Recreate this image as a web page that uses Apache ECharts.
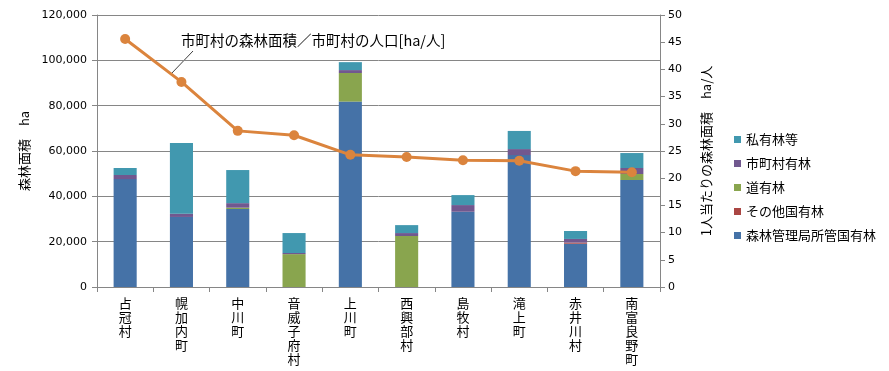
<!DOCTYPE html>
<html><head><meta charset="utf-8">
<script src="https://cdn.jsdelivr.net/npm/echarts@6/dist/echarts.min.js"></script>
<style>html,body{margin:0;padding:0;background:#fff}#c{width:889px;height:371px}</style>
</head><body><div id="c"></div>
<script>
const categories = ['占冠村','幌加内町','中川町','音威子府村','上川町','西興部村','島牧村','滝上町','赤井川村','南富良野町'];
const kokuyuKanri = [47600, 30900, 34400, 0, 81800, 0, 33200, 58200, 19100, 47200];
const sonotaKoku  = [0, 0, 0, 0, 0, 0, 0, 0, 500, 0];
const doyu        = [0, 0, 600, 14500, 12600, 22500, 0, 0, 0, 2650];
const shichoson   = [1800, 1450, 2000, 500, 1300, 1300, 2950, 2650, 1600, 2650];
const shiyu       = [3100, 31200, 14600, 8800, 3500, 3500, 4400, 8000, 3500, 6600];
const perCapita   = [45.6, 37.7, 28.7, 27.9, 24.3, 23.9, 23.3, 23.2, 21.3, 21.1];
const leftTicks = [0, 20000, 40000, 60000, 80000, 100000, 120000];
const rightTicks = [0,5,10,15,20,25,30,35,40,45,50];

const CJK = '"Noto Sans CJK JP", sans-serif';
const NUM = '"DejaVu Sans", sans-serif';
const chart = echarts.init(document.getElementById('c'), null, {renderer:'canvas'});
function bar(name, data, color){
  return {name, type:'bar', stack:'a', data, barWidth:'41%', itemStyle:{color}, yAxisIndex:0};
}
chart.setOption({
  animation:false,
  textStyle:{fontFamily:CJK},
  grid:{left:97, right:229, top:15, bottom:84},
  legend:{orient:'vertical', left:729, top:128, icon:'rect', itemWidth:7, itemHeight:7, itemGap:11,
    textStyle:{fontSize:13, lineHeight:13, color:'#000', fontFamily:CJK},
    data:['私有林等','市町村有林','道有林','その他国有林','森林管理局所管国有林']},
  xAxis:{type:'category', data:categories, boundaryGap:true,
    axisLine:{lineStyle:{color:'#868686'}}, axisTick:{show:true, length:5, interval:0, lineStyle:{color:'#868686'}},
    axisLabel:{interval:0, margin:9, fontSize:13, lineHeight:14, color:'#000', fontFamily:CJK,
      formatter:v=>v.split('').join('\n')}},
  yAxis:[
    {type:'value', min:leftTicks[0], max:leftTicks[leftTicks.length-1], interval:20000,
     name:'森林面積　ha', nameLocation:'middle', nameGap:66, nameRotate:90,
     nameTextStyle:{fontSize:13, color:'#000', fontFamily:CJK},
     axisLine:{show:true, lineStyle:{color:'#868686'}}, axisTick:{show:true, length:5, lineStyle:{color:'#868686'}},
     axisLabel:{margin:10, fontSize:11, color:'#000', fontFamily:NUM, formatter:v=>v.toLocaleString('en-US')},
     splitLine:{show:true, lineStyle:{color:'#868686'}}},
    {type:'value', min:rightTicks[0], max:rightTicks[rightTicks.length-1], interval:5, position:'right',
     name:'1人当たりの森林面積　ha/人', nameLocation:'middle', nameGap:40, nameRotate:90,
     nameTextStyle:{fontSize:13, color:'#000', fontFamily:CJK},
     axisLine:{show:true, lineStyle:{color:'#868686'}}, axisTick:{show:true, length:5, lineStyle:{color:'#868686'}},
     axisLabel:{margin:8, fontSize:11, color:'#000', fontFamily:NUM},
     splitLine:{show:false}}
  ],
  graphic:[
    {type:'text', left:181, top:33, style:{text:'市町村の森林面積／市町村の人口[ha/人]', font:'14.5px "Noto Sans CJK JP"', fill:'#000'}},
    {type:'line', shape:{x1:193, y1:51, x2:171, y2:74}, style:{stroke:'#404040', lineWidth:1}}
  ],
  series:[
    bar('森林管理局所管国有林', kokuyuKanri, '#4572A7'),
    bar('その他国有林', sonotaKoku, '#AA4643'),
    bar('道有林', doyu, '#89A54E'),
    bar('市町村有林', shichoson, '#71588F'),
    bar('私有林等', shiyu, '#4198AF'),
    {name:'perCapita', type:'line', yAxisIndex:1, data:perCapita, symbol:'circle', symbolSize:10,
     lineStyle:{color:'#DB843D', width:3}, itemStyle:{color:'#DB843D'}, z:5}
  ]
});
</script></body></html>
